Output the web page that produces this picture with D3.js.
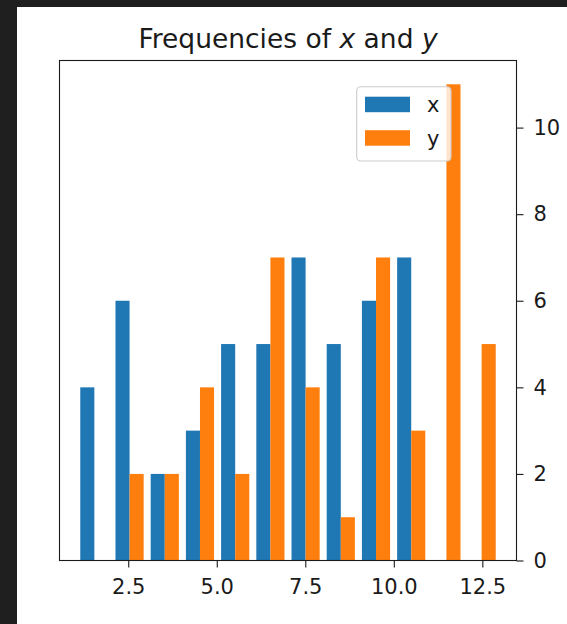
<!DOCTYPE html>
<html>
<head>
<meta charset="utf-8">
<script src="https://cdn.jsdelivr.net/npm/d3@7/dist/d3.min.js"></script>
<style>
  html, body { margin: 0; padding: 0; background: #1f1f1f; }
  svg { display: block; }
  text { font-family: "DejaVu Sans", sans-serif; fill: #1a1a1a; }
</style>
</head>
<body>
<svg id="chart" width="567" height="624"></svg>
<script>
// ---- data ----
const binEdges = [1.046, 2.040, 3.035, 4.029, 5.023, 6.018, 7.012, 8.006, 9.000, 9.995, 10.989, 11.983, 12.978];
const xCounts = [4, 6, 2, 3, 5, 5, 7, 5, 6, 7, 0, 0];
const yCounts = [0, 2, 2, 4, 2, 7, 4, 1, 7, 3, 11, 5];
const seriesNames = ["x", "y"];
const seriesColors = ["#1f77b4", "#ff7f0e"];
const xTickValues = [2.5, 5.0, 7.5, 10.0, 12.5];
const yTickValues = [0, 2, 4, 6, 8, 10];
const titleParts = [["Frequencies of ", "normal"], ["x", "italic"], [" and ", "normal"], ["y", "italic"]];

// ---- layout ----
const svg = d3.select("#chart");
const frame = { left: 17, top: 7 };
const ax = { left: 59.5, right: 516.5, top: 60.5, bottom: 560.5 };

svg.append("rect").attr("x", frame.left).attr("y", frame.top)
  .attr("width", 567 - frame.left).attr("height", 624 - frame.top).attr("fill", "#ffffff");

// matplotlib-like hist geometry: each bin uses 80% width split among series
const series = [xCounts, yCounts];
const nS = series.length;
const bars = [];
series.forEach((counts, si) => {
  counts.forEach((c, i) => {
    const w = binEdges[i + 1] - binEdges[i];
    const bw = 0.8 * w / nS;
    const x0 = binEdges[i] + 0.1 * w + si * bw;
    bars.push({ si, x0, x1: x0 + bw, c });
  });
});
const xmin = d3.min(bars, d => d.x0), xmax = d3.max(bars, d => d.x1);
const span = xmax - xmin;
const x = d3.scale = d3.scaleLinear().domain([xmin - 0.05 * span, xmax + 0.05 * span]).range([ax.left, ax.right]);
const ymaxData = d3.max(bars, d => d.c);
const y = d3.scaleLinear().domain([0, ymaxData * 1.05]).range([ax.bottom, ax.top]);

// bars
svg.append("g").selectAll("rect").data(bars.filter(d => d.c > 0)).join("rect")
  .attr("x", d => x(d.x0)).attr("width", d => x(d.x1) - x(d.x0))
  .attr("y", d => y(d.c)).attr("height", d => y(0) - y(d.c))
  .attr("fill", d => seriesColors[d.si]);

// axes
const fs = 21;
const xAxis = svg.append("g").attr("transform", `translate(0,${ax.bottom})`)
  .call(d3.axisBottom(x).tickValues(xTickValues).tickFormat(d3.format(".1f")).tickSize(7).tickSizeOuter(0).tickPadding(12));
const yAxis = svg.append("g").attr("transform", `translate(${ax.right},0)`)
  .call(d3.axisRight(y).tickValues(yTickValues).tickFormat(d3.format("d")).tickSize(7).tickSizeOuter(0).tickPadding(10));
[xAxis, yAxis].forEach(g => {
  g.select(".domain").remove();
  g.selectAll(".tick line").attr("stroke", "#1a1a1a").attr("stroke-width", 1.1);
  g.selectAll(".tick text").attr("font-size", fs).attr("font-family", "DejaVu Sans").attr("fill", "#1a1a1a");
});

// spines
svg.append("rect").attr("x", ax.left).attr("y", ax.top)
  .attr("width", ax.right - ax.left).attr("height", ax.bottom - ax.top)
  .attr("fill", "none").attr("stroke", "#1a1a1a").attr("stroke-width", 1.1);

// title
const title = svg.append("text").attr("x", (ax.left + ax.right) / 2).attr("y", 48.3)
  .attr("text-anchor", "middle").attr("font-size", 26.5);
titleParts.forEach(([t, st]) => title.append("tspan").text(t).attr("font-style", st));

// legend
const lg = svg.append("g");
lg.append("rect").attr("x", 356.7).attr("y", 86.7).attr("width", 94.3).attr("height", 74.3)
  .attr("rx", 4).attr("fill", "#ffffff").attr("fill-opacity", 0.8)
  .attr("stroke", "#cccccc").attr("stroke-width", 1.1);
seriesNames.forEach((name, i) => {
  const yy = 96.7 + i * 33.5;
  lg.append("rect").attr("x", 365).attr("y", yy).attr("width", 45).attr("height", 15.5)
    .attr("fill", seriesColors[i]);
  lg.append("text").attr("x", 427).attr("y", yy + 15.5).attr("font-size", fs).text(name);
});
</script>
</body>
</html>
